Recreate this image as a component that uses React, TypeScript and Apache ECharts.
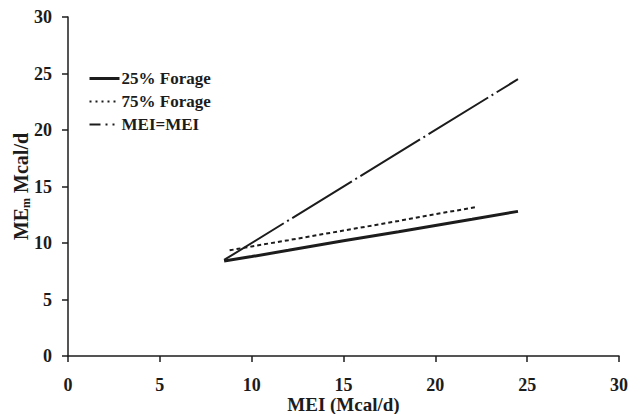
import React, { useEffect, useRef } from "react";
import * as echarts from "echarts";

const xTicks = [0, 5, 10, 15, 20, 25, 30];
const seriesNames = ["25% Forage", "75% Forage", "MEI=MEI"];
const forage25: [number, number][] = [
  [8.5, 8.4], [10, 8.8], [12, 9.35], [15, 10.2], [18, 11.0], [20, 11.55], [22, 12.1], [24.5, 12.8],
];
const forage75: [number, number][] = [
  [8.8, 9.35], [10, 9.7], [12, 10.25], [15, 11.1], [18, 11.95], [20, 12.55], [22.3, 13.2],
];
const meiLine: [number, number][] = [
  [8.5, 8.5], [24.5, 24.5],
];

const FONT = "'Liberation Serif', 'Times New Roman', serif";
const INK = "#1c1c1c";

export default function App() {
  const ref = useRef<HTMLDivElement>(null);
  useEffect(() => {
    if (!ref.current) return;
    const chart = echarts.init(ref.current, undefined, { renderer: "svg" });
    chart.setOption({
      animation: false,
      backgroundColor: "#ffffff",
      grid: { left: 68, right: 21, top: 17, bottom: 58, outerBoundsMode: "none", containLabel: false },
      legend: {
        orient: "vertical",
        left: 83,
        top: 65,
        itemWidth: 30,
        itemHeight: 10,
        itemGap: 6,
        itemStyle: { opacity: 0, borderWidth: 0 },
        data: [
          { name: seriesNames[0], lineStyle: { color: INK, width: 3, type: "solid" } },
          { name: seriesNames[1], lineStyle: { color: INK, width: 2, type: [2, 4] } },
          { name: seriesNames[2], lineStyle: { color: INK, width: 2, type: [11, 5, 2, 5, 2, 20] } },
        ],
        textStyle: { fontFamily: FONT, fontWeight: "bold", fontSize: 17, color: INK, padding: [0, 0, 0, -3] },
      },
      xAxis: {
        type: "value",
        min: 0,
        max: 30,
        interval: 5,
        name: "MEI (Mcal/d)",
        nameLocation: "middle",
        nameGap: 38,
        nameMoveOverlap: false,
        nameTextStyle: { fontFamily: FONT, fontWeight: "bold", fontSize: 19, color: INK, lineHeight: 20 },
        axisLine: { lineStyle: { color: INK, width: 1.5 } },
        axisTick: { show: true, inside: false, length: 6, lineStyle: { color: INK, width: 1.5 } },
        axisLabel: {
          margin: 21,
          lineHeight: 16,
          fontFamily: FONT, fontWeight: "bold", fontSize: 18, color: INK,
          formatter: (v: number) => (xTicks.includes(v) ? String(v) : ""),
        },
        splitLine: { show: false },
      },
      yAxis: {
        type: "value",
        min: 0,
        max: 30,
        interval: 5,
        name: "{a|ME}{s|m}{a| Mcal/d}",
        nameLocation: "middle",
        nameGap: 36,
        nameMoveOverlap: false,
        nameTextStyle: {
          fontFamily: FONT, fontWeight: "bold", fontSize: 20, color: INK,
          rich: {
            a: { fontFamily: FONT, fontWeight: "bold", fontSize: 20, color: INK },
            s: { fontFamily: FONT, fontWeight: "bold", fontSize: 12, color: INK, padding: [10, 0, 0, 0] },
          },
        },
        axisLine: { show: true, lineStyle: { color: INK, width: 1.5 } },
        axisTick: { show: true, inside: false, length: 6, lineStyle: { color: INK, width: 1.5 } },
        axisLabel: { margin: 16, fontFamily: FONT, fontWeight: "bold", fontSize: 18, color: INK },
        splitLine: { show: false },
      },
      series: [
        {
          name: seriesNames[0],
          type: "line",
          data: forage25,
          symbol: "none",
          lineStyle: { color: INK, width: 3, type: "solid" },
          itemStyle: { color: INK },
        },
        {
          name: seriesNames[1],
          type: "line",
          data: forage75,
          symbol: "none",
          lineStyle: { color: INK, width: 2, type: [4, 3] },
          itemStyle: { color: INK },
        },
        {
          name: seriesNames[2],
          type: "line",
          data: meiLine,
          symbol: "none",
          lineStyle: { color: INK, width: 2, type: [70, 4, 2, 4] },
          itemStyle: { color: INK },
        },
      ],
    });
    return () => chart.dispose();
  }, []);
  return <div ref={ref} style={{ width: 640, height: 414, position: "fixed", left: 0, top: 0 }} />;
}
